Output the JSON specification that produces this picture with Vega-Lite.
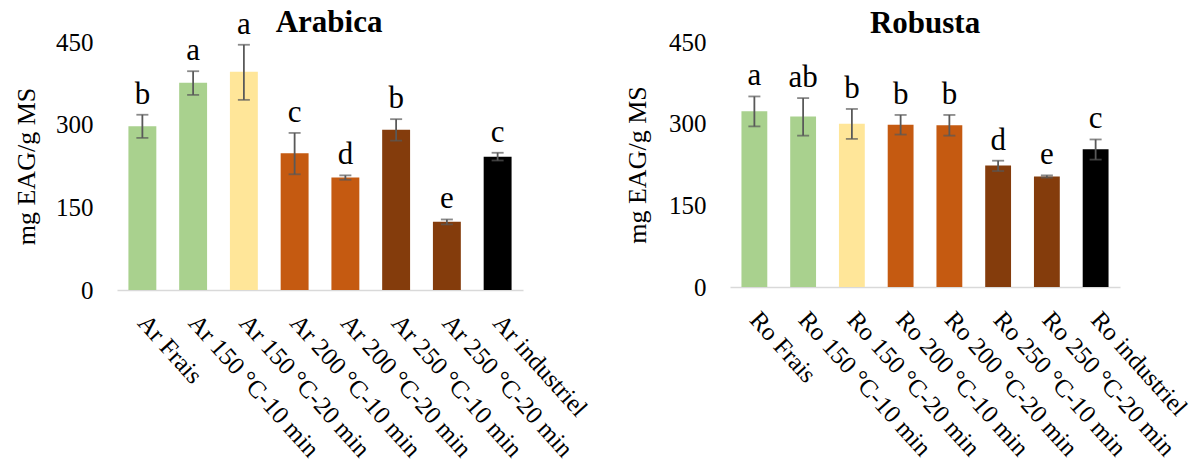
{
  "$schema": "https://vega.github.io/schema/vega-lite/v6.json",
  "background": "white",
  "padding": {"left": 13, "top": 6, "right": 5, "bottom": 5},
  "config": {
    "font": "Liberation Serif",
    "view": {"stroke": null},
    "title": {"font": "Liberation Serif", "fontSize": 31, "fontWeight": "bold", "color": "#000000", "baseline": "alphabetic", "frame": "group"},
    "axis": {"labelFont": "Liberation Serif", "titleFont": "Liberation Serif", "labelColor": "#000000", "titleColor": "#000000", "grid": false, "ticks": false, "tickSize": 0}
  },
  "datasets": {
    "coffee": [
      {"origin": "Arabica", "sample": "Ar Frais", "condition": "Frais", "value": 297, "lo": 276, "hi": 318, "letter": "b"},
      {"origin": "Arabica", "sample": "Ar 150 °C-10 min", "condition": "150-10", "value": 376, "lo": 354, "hi": 397, "letter": "a"},
      {"origin": "Arabica", "sample": "Ar 150 °C-20 min", "condition": "150-20", "value": 396, "lo": 345, "hi": 445, "letter": "a"},
      {"origin": "Arabica", "sample": "Ar 200 °C-10 min", "condition": "200-10", "value": 248, "lo": 210, "hi": 285, "letter": "c"},
      {"origin": "Arabica", "sample": "Ar 200 °C-20 min", "condition": "200-20", "value": 204, "lo": 200, "hi": 208, "letter": "d"},
      {"origin": "Arabica", "sample": "Ar 250 °C-10 min", "condition": "250-10", "value": 291, "lo": 271, "hi": 310, "letter": "b"},
      {"origin": "Arabica", "sample": "Ar 250 °C-20 min", "condition": "250-20", "value": 124, "lo": 119, "hi": 128, "letter": "e"},
      {"origin": "Arabica", "sample": "Ar industriel", "condition": "industriel", "value": 242, "lo": 235, "hi": 249, "letter": "c"},
      {"origin": "Robusta", "sample": "Ro Frais", "condition": "Frais", "value": 323, "lo": 295, "hi": 350, "letter": "a"},
      {"origin": "Robusta", "sample": "Ro 150 °C-10 min", "condition": "150-10", "value": 313, "lo": 278, "hi": 347, "letter": "ab"},
      {"origin": "Robusta", "sample": "Ro 150 °C-20 min", "condition": "150-20", "value": 300, "lo": 272, "hi": 327, "letter": "b"},
      {"origin": "Robusta", "sample": "Ro 200 °C-10 min", "condition": "200-10", "value": 298, "lo": 280, "hi": 316, "letter": "b"},
      {"origin": "Robusta", "sample": "Ro 200 °C-20 min", "condition": "200-20", "value": 297, "lo": 278, "hi": 316, "letter": "b"},
      {"origin": "Robusta", "sample": "Ro 250 °C-10 min", "condition": "250-10", "value": 223, "lo": 213, "hi": 232, "letter": "d"},
      {"origin": "Robusta", "sample": "Ro 250 °C-20 min", "condition": "250-20", "value": 203, "lo": 201, "hi": 205, "letter": "e"},
      {"origin": "Robusta", "sample": "Ro industriel", "condition": "industriel", "value": 253, "lo": 234, "hi": 271, "letter": "c"}
    ]
  },
  "spacing": 32,
  "hconcat": [
    {
      "title": {"text": "Arabica", "offset": -30, "dx": 9},
      "width": 406,
      "height": 248,
      "data": {"name": "coffee"},
      "transform": [{"filter": "datum.origin === 'Arabica'"}],
      "encoding": {
        "x": {"field": "sample", "type": "nominal", "sort": null, "scale": {"paddingInner": 0.45, "paddingOuter": 0.225},
          "axis": {"title": null, "labelAngle": 48, "labelAlign": "left", "labelBaseline": "middle", "labelFontSize": 25, "labelPadding": 28, "domainColor": "#D9D9D9", "domainWidth": 1.5, "labelLimit": 400}}
      },
      "layer": [
        {"mark": {"type": "bar"},
          "encoding": {
            "y": {"field": "value", "type": "quantitative", "scale": {"domain": [0, 450], "nice": false},
              "axis": {"title": "mg EAG/g MS", "titleFontSize": 26, "titleFontWeight": "normal", "titlePadding": 16, "values": [0, 150, 300, 450], "labelFontSize": 25, "labelPadding": 24, "domain": false}},
            "color": {"field": "condition", "type": "nominal", "legend": null,
              "scale": {"domain": ["Frais", "150-10", "150-20", "200-10", "200-20", "250-10", "250-20", "industriel"],
                "range": ["#A9D18E", "#A9D18E", "#FFE699", "#C55A11", "#C55A11", "#843C0C", "#843C0C", "#000000"]}}
          }},
        {"mark": {"type": "rule", "color": "#595959", "strokeWidth": 1.8},
          "encoding": {"y": {"field": "lo", "type": "quantitative"}, "y2": {"field": "hi"}}},
        {"mark": {"type": "tick", "color": "#595959", "thickness": 1.8, "size": 12},
          "encoding": {"y": {"field": "lo", "type": "quantitative"}}},
        {"mark": {"type": "tick", "color": "#595959", "thickness": 1.8, "size": 12},
          "encoding": {"y": {"field": "hi", "type": "quantitative"}}},
        {"mark": {"type": "text", "font": "Liberation Serif", "fontSize": 31, "baseline": "alphabetic", "dy": -11, "color": "#000000"},
          "encoding": {"y": {"field": "hi", "type": "quantitative"}, "text": {"field": "letter"}}}
      ]
    },
    {
      "title": {"text": "Robusta", "offset": -10},
      "width": 390,
      "height": 245,
      "data": {"name": "coffee"},
      "transform": [{"filter": "datum.origin === 'Robusta'"}],
      "encoding": {
        "x": {"field": "sample", "type": "nominal", "sort": null, "scale": {"paddingInner": 0.47, "paddingOuter": 0.235},
          "axis": {"title": null, "labelAngle": 48, "labelAlign": "left", "labelBaseline": "middle", "labelFontSize": 25, "labelPadding": 28, "domainColor": "#D9D9D9", "domainWidth": 1.5, "labelLimit": 400}}
      },
      "layer": [
        {"mark": {"type": "bar"},
          "encoding": {
            "y": {"field": "value", "type": "quantitative", "scale": {"domain": [0, 450], "nice": false},
              "axis": {"title": "mg EAG/g MS", "titleFontSize": 26, "titleFontWeight": "normal", "titlePadding": 18, "values": [0, 150, 300, 450], "labelFontSize": 25, "labelPadding": 24, "domain": false}},
            "color": {"field": "condition", "type": "nominal", "legend": null,
              "scale": {"domain": ["Frais", "150-10", "150-20", "200-10", "200-20", "250-10", "250-20", "industriel"],
                "range": ["#A9D18E", "#A9D18E", "#FFE699", "#C55A11", "#C55A11", "#843C0C", "#843C0C", "#000000"]}}
          }},
        {"mark": {"type": "rule", "color": "#595959", "strokeWidth": 1.8},
          "encoding": {"y": {"field": "lo", "type": "quantitative"}, "y2": {"field": "hi"}}},
        {"mark": {"type": "tick", "color": "#595959", "thickness": 1.8, "size": 12},
          "encoding": {"y": {"field": "lo", "type": "quantitative"}}},
        {"mark": {"type": "tick", "color": "#595959", "thickness": 1.8, "size": 12},
          "encoding": {"y": {"field": "hi", "type": "quantitative"}}},
        {"mark": {"type": "text", "font": "Liberation Serif", "fontSize": 31, "baseline": "alphabetic", "dy": -11, "color": "#000000"},
          "encoding": {"y": {"field": "hi", "type": "quantitative"}, "text": {"field": "letter"}}}
      ]
    }
  ],
  "resolve": {"scale": {"color": "shared"}}
}
